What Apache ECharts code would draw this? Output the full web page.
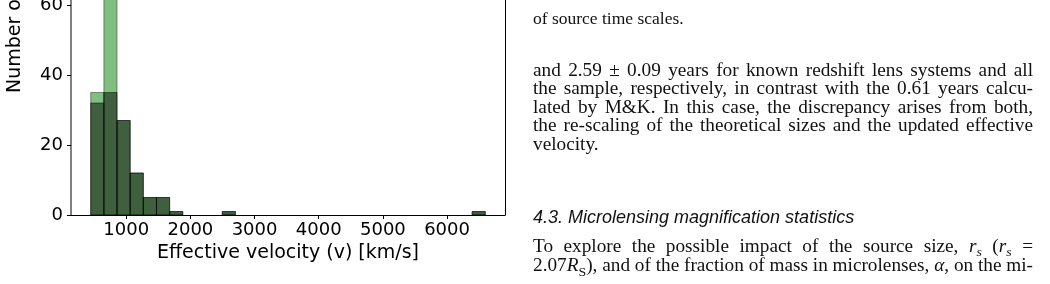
<!DOCTYPE html>
<html><head><meta charset="utf-8">
<script src="https://cdn.jsdelivr.net/npm/echarts@6/dist/echarts.min.js"></script>
<style>html,body{margin:0;padding:0;background:#fff}#c{width:1050px;height:284px}</style>
</head><body><div id="c"></div><script>
// ---------- chart data ----------
const binEdges = [446, 651, 856, 1061, 1266, 1471, 1676, 1881, 2086, 2291, 2496, 2701, 2906, 3111, 3316, 3521, 3726, 3931, 4136, 4341, 4546, 4751, 4956, 5161, 5366, 5571, 5776, 5981, 6186, 6391, 6596];
const countsAll   = [35, 70, 27, 12, 5, 5, 1, 0, 0, 0, 1, 0, 0, 0, 0, 0, 0, 0, 0, 0, 0, 0, 0, 0, 0, 0, 0, 0, 0, 1];
const countsKnown = [32, 35, 27, 12, 5, 5, 1, 0, 0, 0, 1, 0, 0, 0, 0, 0, 0, 0, 0, 0, 0, 0, 0, 0, 0, 0, 0, 0, 0, 1];
const xTicks = [1000, 2000, 3000, 4000, 5000, 6000];
const yTicks = [0, 20, 40, 60];
const xTitle = 'Effective velocity (v) [km/s]';
const yTitle = 'Number of systems';

// ---------- surrounding page text ----------
const textLines = [
  {base: 25,    st: 'c', just: false, text: 'of source time scales.'},
  {base: 77.3,  st: 'n', just: true,  text: 'and 2.59 ± 0.09 years for known redshift lens systems and all'},
  {base: 95.7,  st: 'n', just: true,  text: 'the sample, respectively, in contrast with the 0.61 years calcu-'},
  {base: 114.3, st: 'n', just: true,  text: 'lated by M&K. In this case, the discrepancy arises from both,'},
  {base: 132.7, st: 'n', just: true,  text: 'the re-scaling of the theoretical sizes and the updated effective'},
  {base: 151,   st: 'n', just: false, text: 'velocity.'},
  {base: 224,   st: 'h', just: false, text: '4.3. Microlensing magnification statistics'},
  {base: 253.3, st: 'n', just: true,  text: 'To explore the possible impact of the source size, \\i{r}\\s{s} (\\i{r}\\s{s} ='},
  {base: 272.5, st: 'n', just: true,  text: '2.07\\i{R}\\t{S}), and of the fraction of mass in microlenses, \\i{α}, on the mi-'}
];

const SERIF = '"Liberation Serif", "Times New Roman", serif';
const SANS = '"Liberation Sans", Arial, sans-serif';
const fontStyles = {
  c: {font: '17.5px ' + SERIF, size: 17.5, dy: 0, sx: 1},
  n: {font: '18px ' + SERIF, size: 18, dy: 0, sx: 1.07},
  i: {font: 'italic 18px ' + SERIF, size: 18, dy: 0, sx: 1.07},
  s: {font: 'italic 13px ' + SERIF, size: 13, dy: 4, sx: 1.07},
  t: {font: '13px ' + SERIF, size: 13, dy: 4, sx: 1.07},
  h: {font: 'italic 18px ' + SANS, size: 18, dy: 0, sx: 1}
};
const TEXT_X = 533, TEXT_W = 500;

const mctx = document.createElement('canvas').getContext('2d');
function measure(t, font) { mctx.font = font; return mctx.measureText(t).width; }
function parseWord(word, baseKey) {
  const segs = []; const re = /\\([ist])\{([^}]*)\}/g; let last = 0, m;
  while ((m = re.exec(word))) {
    if (m.index > last) segs.push({t: word.slice(last, m.index), k: baseKey});
    segs.push({t: m[2], k: m[1]});
    last = re.lastIndex;
  }
  if (last < word.length) segs.push({t: word.slice(last), k: baseKey});
  return segs;
}
const graphics = [];
textLines.forEach(line => {
  const words = line.text.split(' ').map(w => {
    const segs = parseWord(w, line.st);
    segs.forEach(s => { s.w = measure(s.t, fontStyles[s.k].font) * fontStyles[s.k].sx; });
    return {segs, w: segs.reduce((a, s) => a + s.w, 0)};
  });
  const total = words.reduce((a, w) => a + w.w, 0);
  const bs = fontStyles[line.st];
  const gap = (line.just && words.length > 1) ? (TEXT_W - total) / (words.length - 1)
                                              : measure(' ', bs.font) * bs.sx;
  let x = TEXT_X;
  words.forEach(w => {
    w.segs.forEach(s => {
      const fs = fontStyles[s.k];
      graphics.push({
        type: 'text', silent: true, x: x, y: line.base + fs.dy - 0.34 * fs.size, scaleX: fs.sx,
        style: {text: s.t, font: fs.font, fill: '#111', align: 'left', verticalAlign: 'middle'}
      });
      x += s.w;
    });
    x += gap;
  });
});
graphics.push({
  type: 'text', silent: true, x: 15, y: 93, rotation: Math.PI / 2,
  style: {text: yTitle, font: '19px "DejaVu Sans"', fill: '#000', align: 'left', verticalAlign: 'middle'}
});

// ---------- chart ----------
function histData(counts) {
  return counts.map((c, i) => [binEdges[i], binEdges[i + 1], c]);
}
function makeRender(fill, stroke) {
  return function (params, api) {
    const h = api.value(2);
    if (!h) return null;
    const p0 = api.coord([api.value(0), 0]);
    const p1 = api.coord([api.value(1), h]);
    return {type: 'rect', shape: {x: p0[0], y: p1[1], width: p1[0] - p0[0], height: p0[1] - p1[1]},
            style: {fill: fill, stroke: stroke, lineWidth: 1}};
  };
}
const chart = echarts.init(document.getElementById('c'), null, {renderer: 'canvas'});
const tickFont = {fontFamily: '"DejaVu Sans"', fontSize: 18, color: '#000'};
chart.setOption({
  animation: false,
  backgroundColor: '#fff',
  grid: {left: 71, top: -65, width: 434, height: 280, containLabel: false, outerBoundsMode: 'none'},
  xAxis: {
    type: 'value', min: 138.5, max: 6903.5,
    name: xTitle, nameLocation: 'middle', nameGap: 26,
    nameTextStyle: {fontFamily: '"DejaVu Sans"', fontSize: 19, color: '#000'},
    axisLine: {show: true, onZero: false, lineStyle: {color: '#000', width: 1}},
    axisTick: {show: true, length: 4, lineStyle: {color: '#000'}, customValues: xTicks},
    axisLabel: Object.assign({margin: 6, customValues: xTicks, formatter: v => String(v)}, tickFont),
    splitLine: {show: false}
  },
  yAxis: [{
    type: 'value', min: 0, max: 80, interval: 20, position: 'left',
    axisLine: {show: true, lineStyle: {color: '#808080', width: 2}},
    axisTick: {show: true, length: 4, lineStyle: {color: '#000'}, customValues: yTicks},
    axisLabel: Object.assign({margin: 8, customValues: yTicks, formatter: v => String(v)}, tickFont),
    splitLine: {show: false}
  }, {
    type: 'value', min: 0, max: 80, position: 'right',
    axisLine: {show: true, lineStyle: {color: '#000', width: 1}},
    axisTick: {show: false}, axisLabel: {show: false}, splitLine: {show: false}
  }],
  series: [{
    type: 'custom', name: 'All', renderItem: makeRender('rgba(0,128,0,0.5)', 'rgba(0,0,0,0.4)'),
    encode: {x: [0, 1], y: 2}, data: histData(countsAll), z: 2
  }, {
    type: 'custom', name: 'Known', renderItem: makeRender('rgba(0,0,0,0.5)', 'rgba(0,0,0,0.45)'),
    encode: {x: [0, 1], y: 2}, data: histData(countsKnown), z: 3
  }],
  graphic: graphics
});
</script></body></html>
